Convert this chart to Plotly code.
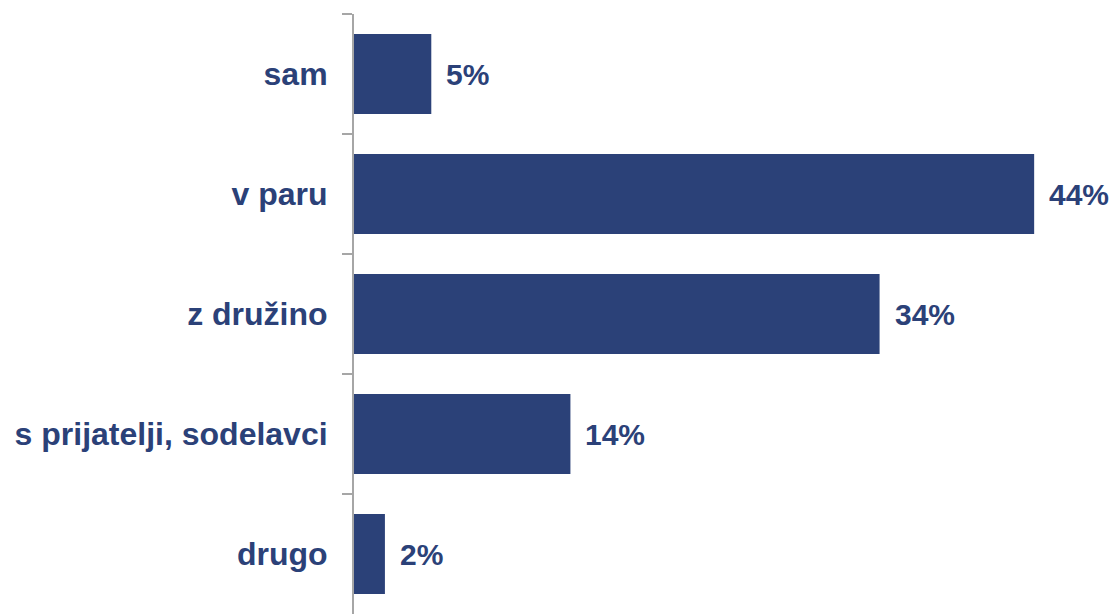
import plotly.graph_objects as go

# Survey: with whom respondents travel (share of answers, %)
categories = ["sam", "v paru", "z družino", "s prijatelji, sodelavci", "drugo"]
shares = [5, 44, 34, 14, 2]
value_labels = ["5%", "44%", "34%", "14%", "2%"]

NAVY = "#2B4178"
GRID_GREY = "#A6A6A6"
FONT = "Liberation Sans, Arial, sans-serif"

fig = go.Figure(
    go.Bar(
        x=shares,
        y=categories,
        orientation="h",
        width=0.667,
        marker=dict(color=NAVY, line=dict(width=0)),
        hoverinfo="skip",
    )
)

# value labels just right of each bar end
for cat, val, lab in zip(categories, shares, value_labels):
    fig.add_annotation(
        x=val, y=cat, text=lab, showarrow=False,
        xanchor="left", yanchor="middle", xshift=13,
        font=dict(family=FONT, size=30, color=NAVY, weight="bold"),
    )

fig.update_layout(
    width=1113, height=614,
    margin=dict(l=354, r=0, t=14, b=0),
    paper_bgcolor="white", plot_bgcolor="white",
    showlegend=False,
    bargap=0.333,
    xaxis=dict(range=[0, 49.1], visible=False, fixedrange=True),
    yaxis=dict(
        type="category",
        autorange="reversed",
        showline=True, linecolor=GRID_GREY, linewidth=2,
        ticks="outside", tickson="boundaries", ticklen=10,
        tickcolor=GRID_GREY, tickwidth=2,
        ticklabelstandoff=18,
        showgrid=False, zeroline=False,
        tickfont=dict(family=FONT, size=32, color=NAVY, weight="bold"),
    ),
)

fig.write_html("out.html")
